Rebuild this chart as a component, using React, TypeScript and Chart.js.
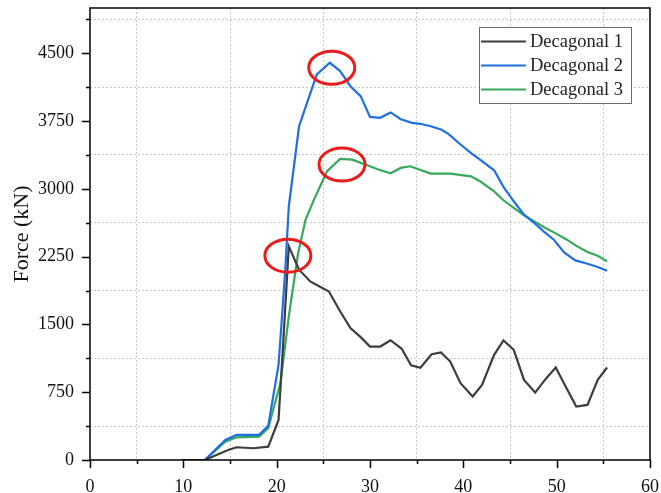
import React, { useEffect, useRef } from 'react';
import { Chart, registerables } from 'chart.js';

Chart.register(...registerables);

const seriesNames = ['Decagonal 1', 'Decagonal 2', 'Decagonal 3'];
const seriesColors = ['#3d3d3d', '#1f6fe3', '#36a85b'];

const d1X = [9.8, 12.3, 14.8, 15.7, 17.5, 19.1, 20.2, 20.7, 21.3, 22.4, 23.6, 24.7, 25.6, 26.7, 27.9, 29.0, 30.0, 31.1, 32.2, 33.4, 34.4, 35.4, 36.6, 37.6, 38.6, 39.7, 41.0, 42.0, 43.3, 44.3, 45.4, 46.5, 47.7, 48.8, 49.9, 51.0, 52.1, 53.3, 54.4, 55.4];
const d1Y = [0, 0, 111, 141, 130, 148, 443, 1293, 2363, 2105, 1975, 1913, 1864, 1662, 1459, 1359, 1255, 1255, 1325, 1230, 1048, 1020, 1170, 1189, 1089, 849, 702, 831, 1163, 1322, 1219, 886, 746, 894, 1023, 805, 591, 609, 886, 1023];

const d2X = [9.8, 12.3, 14.5, 15.7, 18.1, 19.1, 20.2, 20.7, 20.9, 21.3, 22.4, 24.3, 25.7, 26.8, 27.9, 29.0, 30.0, 31.1, 32.2, 33.3, 34.5, 35.4, 36.5, 37.6, 38.4, 39.7, 40.8, 42.0, 43.3, 44.3, 45.4, 46.5, 47.6, 48.6, 49.7, 50.8, 52.0, 53.3, 54.4, 55.4];
const d2Y = [0, 0, 221, 277, 277, 380, 1052, 1772, 2068, 2806, 3692, 4265, 4394, 4302, 4135, 4025, 3796, 3785, 3845, 3770, 3730, 3719, 3692, 3656, 3608, 3490, 3398, 3305, 3205, 3021, 2862, 2714, 2622, 2529, 2437, 2297, 2208, 2171, 2135, 2094];

const d3X = [9.8, 12.3, 14.5, 15.7, 18.1, 19.1, 20.4, 21.3, 22.3, 23.1, 24.0, 25.4, 26.8, 28.1, 29.5, 30.9, 32.2, 33.3, 34.3, 36.5, 38.6, 40.8, 41.8, 43.3, 44.3, 45.4, 46.5, 47.6, 48.6, 49.7, 51.1, 52.2, 53.3, 54.4, 55.4];
const d3Y = [0, 0, 203, 251, 258, 351, 850, 1588, 2290, 2659, 2880, 3194, 3331, 3323, 3268, 3213, 3172, 3231, 3249, 3168, 3168, 3138, 3083, 2972, 2873, 2788, 2707, 2640, 2578, 2518, 2437, 2363, 2301, 2260, 2197];

// Peak markers (red ellipses), in data coordinates
const circleX = [21.2, 25.9, 27.0];
const circleY = [2260, 4339, 3268];

const xMin = 0;
const xMax = 60;
const xStep = 5;
const xLabelStep = 10;
const yMin = 0;
const yMax = 5000;
const yStep = 375;
const yLabelStep = 750;

const FONT = '"Liberation Serif", "Times New Roman", serif';

const overlayPlugin = {
  id: 'overlay',
  afterDatasetsDraw(chart: any) {
    const { ctx, chartArea: a, scales } = chart;
    const x = scales.x;
    const y = scales.y;
    ctx.save();

    // red ellipses
    ctx.strokeStyle = '#ea1c1c';
    ctx.lineWidth = 3;
    circleX.forEach((cx, i) => {
      ctx.beginPath();
      ctx.ellipse(x.getPixelForValue(cx), y.getPixelForValue(circleY[i]), 23, 16.5, 0, 0, Math.PI * 2);
      ctx.stroke();
    });

    // frame
    ctx.strokeStyle = '#000';
    ctx.lineWidth = 1.5;
    ctx.strokeRect(a.left, a.top, a.right - a.left, a.bottom - a.top);

    // tick marks
    ctx.beginPath();
    x.ticks.forEach((t: any) => {
      const px = Math.round(x.getPixelForValue(t.value)) + 0.5;
      const len = t.value % xLabelStep === 0 ? 8 : 4;
      ctx.moveTo(px, a.bottom);
      ctx.lineTo(px, a.bottom + len);
    });
    y.ticks.forEach((t: any) => {
      const py = Math.round(y.getPixelForValue(t.value)) + 0.5;
      const len = t.value % yLabelStep === 0 ? 8 : 4;
      ctx.moveTo(a.left, py);
      ctx.lineTo(a.left - len, py);
    });
    ctx.stroke();

    // legend
    const bx = a.right - 171;
    const by = a.top + 19;
    const bw = 152;
    const bh = 76;
    ctx.fillStyle = '#fff';
    ctx.fillRect(bx, by, bw, bh);
    ctx.strokeStyle = '#6a6a6a';
    ctx.lineWidth = 1;
    ctx.strokeRect(bx + 0.5, by + 0.5, bw, bh);
    ctx.font = `18.5px ${FONT}`;
    ctx.textBaseline = 'middle';
    ctx.textAlign = 'left';
    chart.data.datasets.forEach((ds: any, i: number) => {
      const ry = by + 14.5 + i * 24;
      ctx.strokeStyle = ds.borderColor;
      ctx.lineWidth = 2;
      ctx.beginPath();
      ctx.moveTo(bx + 2, ry);
      ctx.lineTo(bx + 47, ry);
      ctx.stroke();
      ctx.fillStyle = '#222';
      ctx.fillText(ds.label, bx + 51, ry + 1);
    });

    ctx.restore();
  },
};

export default function App() {
  const ref = useRef<HTMLCanvasElement | null>(null);

  useEffect(() => {
    if (!ref.current) return;
    const mk = (xs: number[], ys: number[]) => xs.map((v, i) => ({ x: v, y: ys[i] }));
    const all = [mk(d1X, d1Y), mk(d2X, d2Y), mk(d3X, d3Y)];
    const chart = new Chart(ref.current, {
      type: 'line',
      data: {
        datasets: all.map((data, i) => ({
          label: seriesNames[i],
          data,
          borderColor: seriesColors[i],
          backgroundColor: seriesColors[i],
          borderWidth: 2.2,
          pointRadius: 0,
          tension: 0,
          fill: false,
        })),
      },
      options: {
        responsive: false,
        animation: false,
        layout: { padding: { top: 8, right: 11, left: 0, bottom: 0 } },
        plugins: {
          legend: { display: false },
          tooltip: { enabled: false },
        },
        scales: {
          x: {
            type: 'linear',
            min: xMin,
            max: xMax,
            ticks: {
              stepSize: xStep,
              autoSkip: false,
              maxRotation: 0,
              padding: 16,
              color: '#111',
              font: { family: FONT, size: 18 },
              callback: (v: any) => (Number(v) % xLabelStep === 0 ? String(v) : ''),
            },
            grid: {
              drawTicks: false,
              lineWidth: 1,
              color: (c: any) => (c.tick && c.tick.value % xLabelStep !== 0 ? '#c9c9c9' : 'rgba(0,0,0,0)'),
            },
            border: { display: false, dash: [2, 2] },
            afterFit: (s: any) => {
              s.height = 33;
              s.paddingLeft = 0;
              s.paddingRight = 0;
            },
          },
          y: {
            type: 'linear',
            min: yMin,
            max: yMax,
            afterBuildTicks: (s: any) => {
              const t = [];
              for (let v = yMin; v < yMax; v += yStep) t.push({ value: v });
              s.ticks = t;
            },
            ticks: {
              autoSkip: false,
              padding: 16,
              color: '#111',
              font: { family: FONT, size: 18 },
              callback: (v: any) => (Number(v) % yLabelStep === 0 ? String(v) : ''),
            },
            grid: {
              drawTicks: false,
              lineWidth: 1,
              color: (c: any) => (c.tick && c.tick.value % yLabelStep !== 0 ? '#c9c9c9' : 'rgba(0,0,0,0)'),
            },
            border: { display: false, dash: [2, 2] },
            title: {
              display: true,
              text: 'Force (kN)',
              color: '#111',
              font: { family: FONT, size: 22 },
              padding: { top: 9, bottom: 0 },
            },
            afterFit: (s: any) => {
              s.width = 90;
              s.paddingTop = 0;
              s.paddingBottom = 0;
            },
          },
        },
      },
      plugins: [overlayPlugin],
    });
    return () => chart.destroy();
  }, []);

  return (
    <div style={{ position: 'fixed', left: 0, top: 0, width: 661, height: 493, background: '#fff' }}>
      <canvas ref={ref} width={661} height={493} style={{ display: 'block' }} />
    </div>
  );
}
